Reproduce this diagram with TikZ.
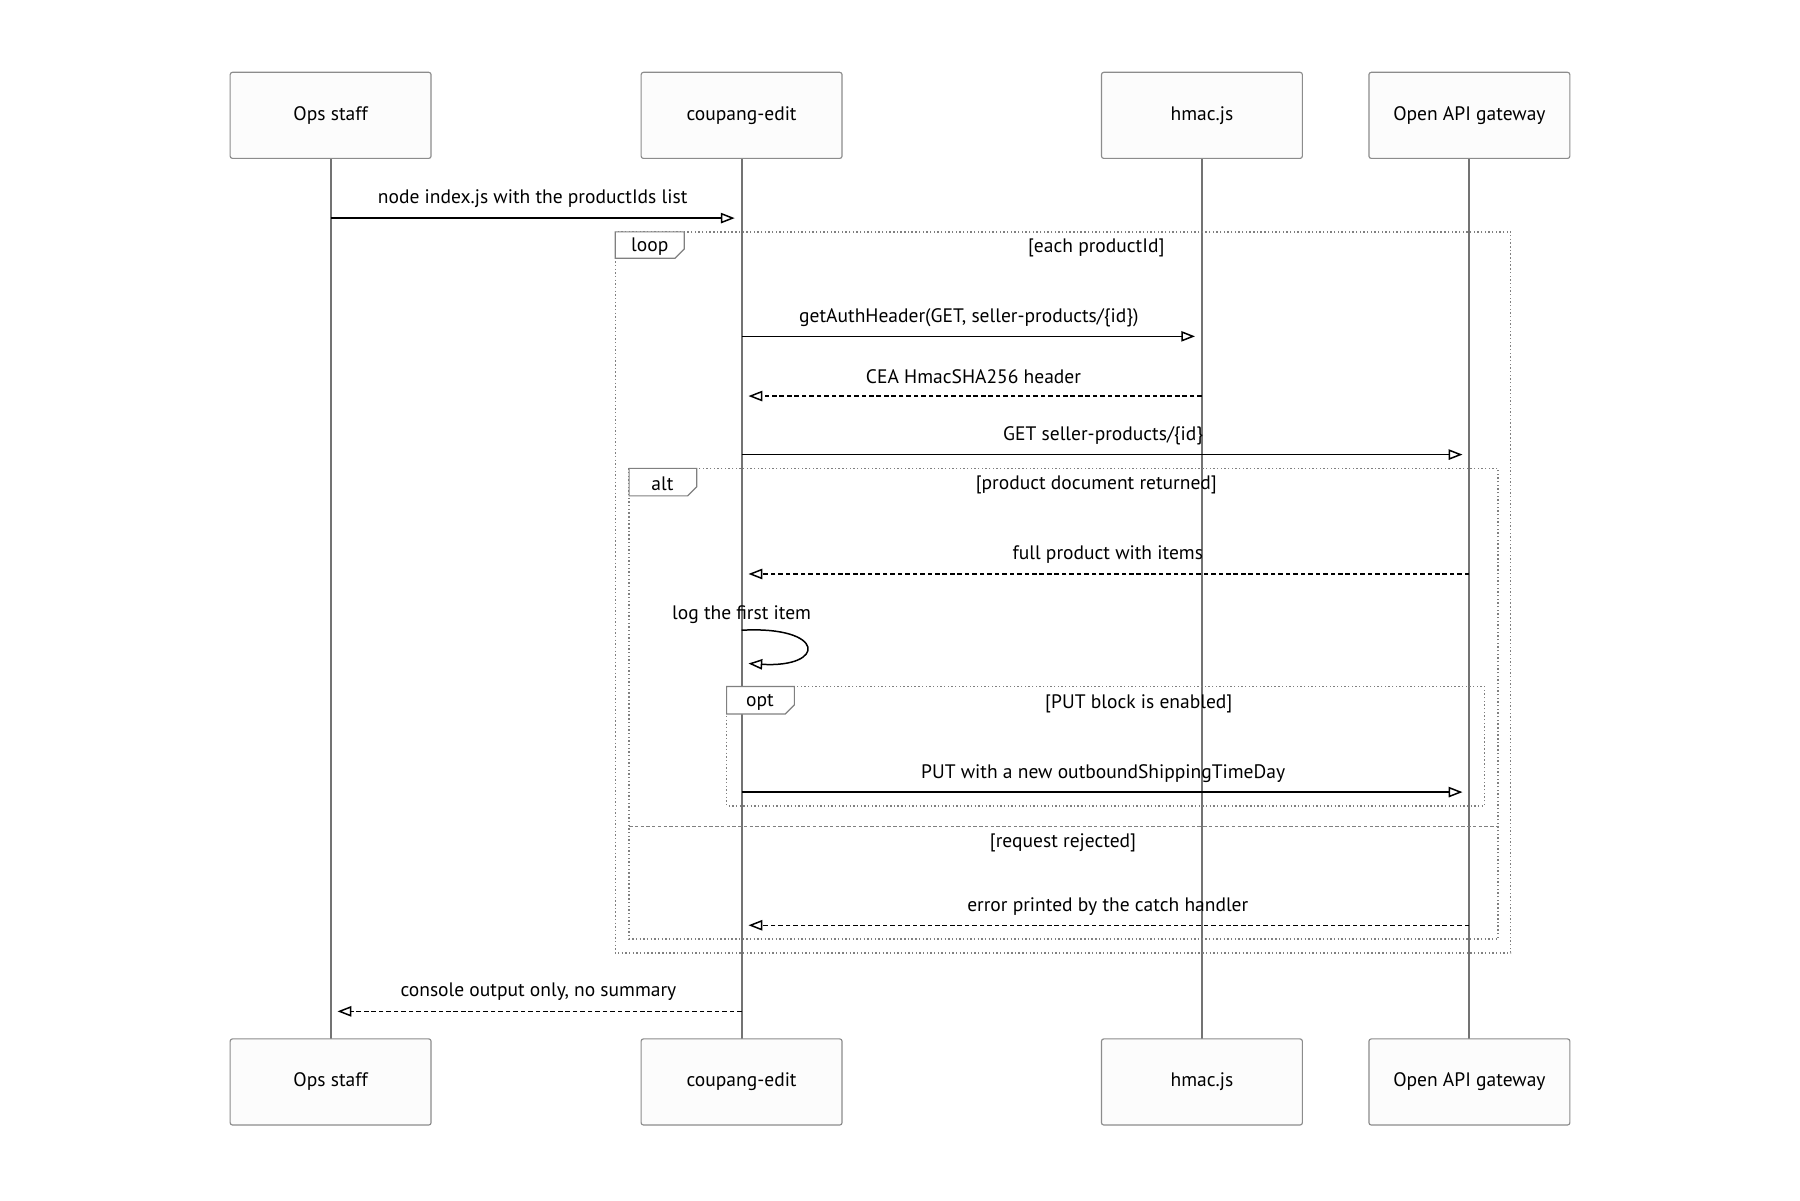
\documentclass[tikz,border=0pt]{standalone}
\usepackage{fontspec}
\setmainfont{PT Sans}
\usetikzlibrary{arrows.meta}
\begin{document}
\begin{tikzpicture}[x=1pt,y=-1pt,
  actor/.style={draw=black!45,fill=black!1,rounded corners=2pt,minimum width=175pt,minimum height=75pt,font=\fontsize{17}{20}\selectfont,line width=1pt},
  life/.style={draw=black!55,line width=1.8pt},
  msg/.style={line width=1.3pt,-{Triangle[open,length=12pt,width=9pt]}},
  rmsg/.style={msg,dash pattern=on 4pt off 2.5pt},
  lab/.style={font=\fontsize{17}{20}\selectfont,inner sep=0pt},
  frame/.style={draw=black!50,line width=1.2pt,dotted},
  tab/.style={draw=black!50,line width=1pt,fill=white}]
\useasboundingbox (0,0) rectangle (1568,1045.6);
\foreach \n/\x/\t in {a/288/Ops staff,b/646/coupang-edit,c/1047/hmac.js,d/1280/Open API gateway}{
  \coordinate (\n t) at (\x,138); \coordinate (\n b) at (\x,905);
  \draw[life] (\n t) -- (\n b);
  \node[actor] (\n1) at (\x,100.5) {\t};
  \node[actor] (\n2) at (\x,942.5) {\t};
}
% frames
\draw[frame] (536,202) rectangle (1316,830);
\draw[tab] (536,202) -- (596,202) -- (596,217) -- (588,225) -- (536,225) -- cycle;
\node[lab] (lp) at (566,215) {loop};
\node[lab] (lpc) at (955,216) {[each productId]};
\draw[frame] (548,408) rectangle (1305,818);
\draw[tab] (548,408) -- (607,408) -- (607,424) -- (599,432) -- (548,432) -- cycle;
\node[lab] (al) at (577,421) {alt};
\node[lab] (alc) at (955,422) {[product document returned]};
\draw[frame] (633,598) rectangle (1293,702);
\draw[tab] (633,598) -- (692,598) -- (692,614) -- (684,622) -- (633,622) -- cycle;
\node[lab] (op) at (662,612) {opt};
\node[lab] (opc) at (992,613) {[PUT block is enabled]};
\draw[draw=black!50,line width=1.2pt,dash pattern=on 3pt off 2pt] (548,720) -- (1305,720);
\node[lab] (el) at (926,734) {[request rejected]};
% messages
\coordinate (m1a) at (288,190); \coordinate (m1b) at (640,190);
\draw[msg] (m1a) -- (m1b); \node[lab] (l1) at (464,173) {node index.js with the productIds list};
\coordinate (m2a) at (646,293); \coordinate (m2b) at (1041,293);
\draw[msg] (m2a) -- (m2b); \node[lab] (l2) at (844,277) {getAuthHeader(GET, seller-products/\{id\})};
\coordinate (m3a) at (1047,345); \coordinate (m3b) at (652,345);
\draw[rmsg] (m3a) -- (m3b); \node[lab] (l3) at (848,328) {CEA HmacSHA256 header};
\coordinate (m4a) at (646,396); \coordinate (m4b) at (1274,396);
\draw[msg] (m4a) -- (m4b); \node[lab] (l4) at (961,380) {GET seller-products/\{id\}};
\coordinate (m5a) at (1280,500); \coordinate (m5b) at (652,500);
\draw[rmsg] (m5a) -- (m5b); \node[lab] (l5) at (965,483) {full product with items};
\coordinate (m6a) at (646,549); \coordinate (m6b) at (652,578);
\draw[msg] (m6a) .. controls (720,545) and (720,582) .. (m6b);
\node[lab] (l6) at (646,535) {log the first item};
\coordinate (m7a) at (646,690); \coordinate (m7b) at (1274,690);
\draw[msg] (m7a) -- (m7b); \node[lab] (l7) at (961,674) {PUT with a new outboundShippingTimeDay};
\coordinate (m8a) at (1280,806); \coordinate (m8b) at (652,806);
\draw[rmsg] (m8a) -- (m8b); \node[lab] (l8) at (965,790) {error printed by the catch handler};
\coordinate (m9a) at (646,881); \coordinate (m9b) at (294,881);
\draw[rmsg] (m9a) -- (m9b); \node[lab] (l9) at (469,864) {console output only, no summary};
\end{tikzpicture}
\end{document}
